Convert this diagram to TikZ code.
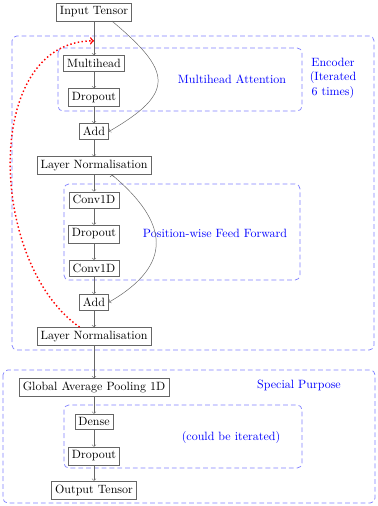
\documentclass[tikz,border=0pt]{standalone}
\usetikzlibrary{arrows,positioning,calc}

\begin{document}
\begin{tikzpicture}[x=0.8333pt,y=0.8333pt,node distance=1cm,auto,>=to]
    \tikzstyle{layer}=[draw=black!60,rectangle,inner sep=3pt]
    \tikzstyle{group}=[draw=blue!50,semithick,dash pattern=on 4pt off 2.5pt,rounded corners=4pt]
    \tikzstyle{grouplabel}=[text=blue,align=center]
    \useasboundingbox (0,0) rectangle (377,-506);

    % dashed groups
    \draw[group] (12,-36) rectangle (374,-350);
    \draw[group] (58,-48) rectangle (302,-111);
    \draw[group] (64,-184) rectangle (300,-280);
    \draw[group] (3,-370) rectangle (375,-503);
    \draw[group] (64,-405) rectangle (302,-468);

    \node[grouplabel] (enclabel) at (333,-78) {Encoder\\(Iterated\\6 times)};
    \node[grouplabel] (mhalabel) at (232,-79) {Multihead Attention};
    \node[grouplabel] (ffnlabel) at (215,-233) {Position-wise Feed Forward};
    \node[grouplabel] (splabel) at (299,-385) {Special Purpose};
    \node[grouplabel] (itlabel) at (231,-437) {(could be iterated)};

    \node[layer] (input) at (94,-12) {Input Tensor};
    \node[layer] (mhead) [below of=input,node distance=1.5cm] {Multihead};
    \node[layer] (drop1) [below of=mhead] {Dropout};
    \node[layer] (add1) [below of=drop1] {Add};
    \node[layer] (norm1) [below of=add1] {Layer Normalisation};
    \node[layer] (conv1) [below of=norm1] {Conv1D};
    \node[layer] (drop2) [below of=conv1] {Dropout};
    \node[layer] (conv2) [below of=drop2] {Conv1D};
    \node[layer] (add2) [below of=conv2] {Add};
    \node[layer] (norm2) [below of=add2] {Layer Normalisation};
    \node[layer] (gap) [below of=norm2,node distance=1.5cm] {Global Average Pooling 1D};
    \node[layer] (dense) [below of=gap] {Dense};
    \node[layer] (drop3) [below of=dense] {Dropout};
    \node[layer] (output) [below of=drop3] {Output Tensor};
    \coordinate (loop) at ($(input.south)!0.58!(mhead.north)$);

    \path[->,draw=black!60]
    (input) edge node {} (mhead)
    (mhead) edge node {} (drop1)
    (drop1) edge node {} (add1)
    (add1) edge node {} (norm1)
    (norm1) edge node {} (conv1)
    (conv1) edge node {} (drop2)
    (drop2) edge node {} (conv2)
    (conv2) edge node {} (add2)
    (add2) edge node {} (norm2)
    (norm2) edge node {} (gap)
    (gap) edge node {} (dense)
    (dense) edge node {} (drop3)
    (drop3) edge node {} (output)
    ([xshift=15pt]input.south) edge [out=-40,in=30,looseness=1.8] node {} (add1.east)
    ([xshift=15pt]norm1.south) edge [out=-40,in=30,looseness=1.5] node {} (add2.east);
    \draw[->,red,very thick,dotted] ([xshift=-12pt]norm2.north) to[out=145,in=180] (loop);
\end{tikzpicture}
\end{document}
